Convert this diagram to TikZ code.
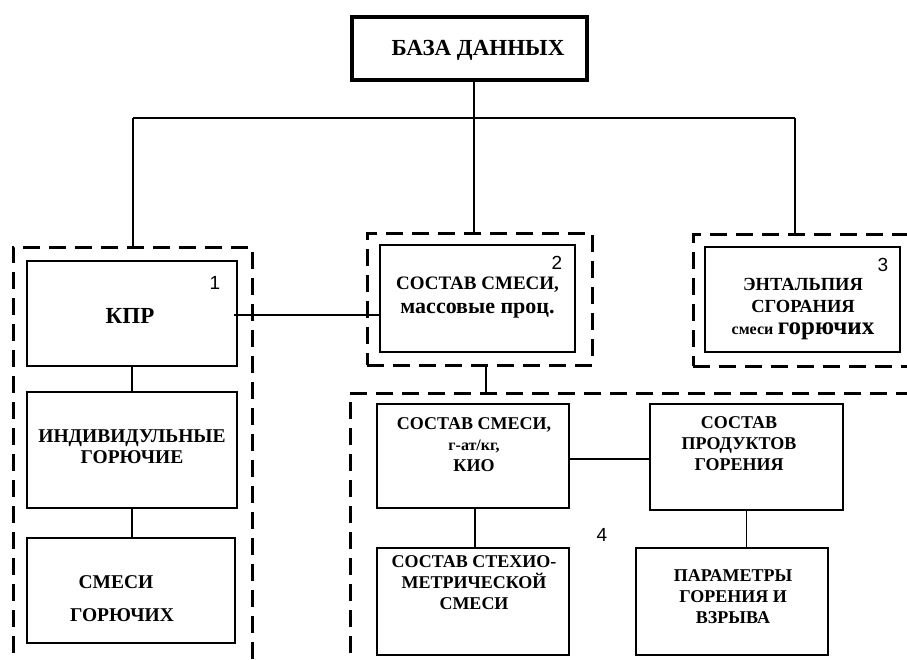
\documentclass[tikz,border=0pt]{standalone}
\usepackage{fontspec}
\setmainfont{Liberation Serif}
\newfontfamily\numfont{Liberation Sans}
\begin{document}
\begin{tikzpicture}[x=1pt,y=-1pt,
  box/.style={draw,line width=2pt,minimum width=#1,inner sep=0pt},
  grp/.style={draw,line width=3pt,dash pattern=on 17pt off 9pt,inner sep=0pt},
  link/.style={line width=1.3pt},
  txt/.style={font=\bfseries\fontsize{18}{21}\selectfont,align=center,inner sep=0pt},
  num/.style={font=\numfont\fontsize{19}{22}\selectfont,inner sep=0pt}]
\useasboundingbox (0,0) rectangle (907,659);
\clip (0,0) rectangle (907,659);
% groups
\node[grp,minimum width=239,minimum height=433] (g1) at (132.5,463.5) {};
\node[grp,minimum width=225,minimum height=132] (g2) at (479.5,299) {};
\node[grp,minimum width=237,minimum height=132] (g3) at (811.5,300) {};
\node[grp,minimum width=580,minimum height=287] (g4) at (640,536.5) {};
% boxes
\node[box=235,minimum height=63,line width=4pt] (db) at (469.5,48.5) {};
\node[box=210,minimum height=105] (kpr) at (132,313.5) {};
\node[box=210,minimum height=116] (ind) at (132,450) {};
\node[box=208,minimum height=105] (mix) at (131,590.5) {};
\node[box=195,minimum height=107] (s2) at (477.5,298.5) {};
\node[box=195,minimum height=105] (s3) at (802.5,299.5) {};
\node[box=192,minimum height=104] (A) at (473,456) {};
\node[box=193,minimum height=106] (B) at (746.5,457) {};
\node[box=192,minimum height=107] (C) at (473,601.5) {};
\node[box=192,minimum height=107] (D) at (732,601.5) {};
% texts
\node[txt,font=\bfseries\fontsize{23}{26}\selectfont] (tdb) at (478,50) {БАЗА ДАННЫХ};
\node[txt,font=\bfseries\fontsize{23}{26}\selectfont] (tkpr) at (130,316) {КПР};
\node[txt,font=\bfseries\fontsize{19.5}{21}\selectfont] (tind) at (132,447) {ИНДИВИДУЛЬНЫЕ\\ГОРЮЧИЕ};
\node[txt,font=\bfseries\fontsize{19.5}{21}\selectfont] (tmix1) at (116,582) {СМЕСИ};
\node[txt,font=\bfseries\fontsize{19.5}{21}\selectfont] (tmix2) at (122,615) {ГОРЮЧИХ};
\node[txt,font=\bfseries\fontsize{19}{24}\selectfont] (ts2) at (477.5,298) {СОСТАВ СМЕСИ,\\{\fontsize{22}{24}\selectfont массовые проц.}};
\node[txt,font=\bfseries\fontsize{18.5}{22}\selectfont] (ts3) at (803,309) {ЭНТАЛЬПИЯ\\СГОРАНИЯ\\{\fontsize{16}{24}\selectfont смеси} {\fontsize{25}{24}\selectfont горючих}};
\node[txt] (tA) at (474,445) {СОСТАВ СМЕСИ,\\{\fontsize{16}{21}\selectfont г-ат/кг,}\\КИО};
\node[txt] (tB) at (739,444) {СОСТАВ\\ПРОДУКТОВ\\ГОРЕНИЯ};
\node[txt] (tC) at (474,583) {СОСТАВ СТЕХИО-\\МЕТРИЧЕСКОЙ\\СМЕСИ};
\node[txt] (tD) at (733,596.5) {ПАРАМЕТРЫ\\ГОРЕНИЯ И\\ВЗРЫВА};
% numbers
\node[num] (n1) at (215,283) {1};
\node[num] (n2) at (557,263) {2};
\node[num] (n3) at (883,265) {3};
\node[num] (n4) at (602,535) {4};
% connectors
\coordinate (hl) at (133,118);
\coordinate (hr) at (795,118);
\coordinate (dbs) at (474,80);
\coordinate (hm) at (474,118);
\coordinate (v2) at (486,365);
\draw[link] (dbs) -- (hm);
\draw[link] (hl) -- (hr);
\draw[link] (hl) -- (hl |- g1.north);
\draw[link] (hm) -- (hm |- g2.north);
\draw[link] (hr) -- (hr |- g3.north);
\draw[link] (kpr.east) ++(-4,1.5) -- (s2.west |- 0,315);
\draw[link] (kpr.south) -- (ind.north);
\draw[link] (ind.south) -- (ind.south |- mix.north);
\draw[link] (v2) -- (v2 |- g4.north);
\draw[link] (A.east |- 0,459) -- (B.west |- 0,459);
\draw[link] (A.south -| 475,0) -- (C.north -| 475,0);
\draw[link] (B.south) -- (B.south |- D.north);
\end{tikzpicture}
\end{document}
